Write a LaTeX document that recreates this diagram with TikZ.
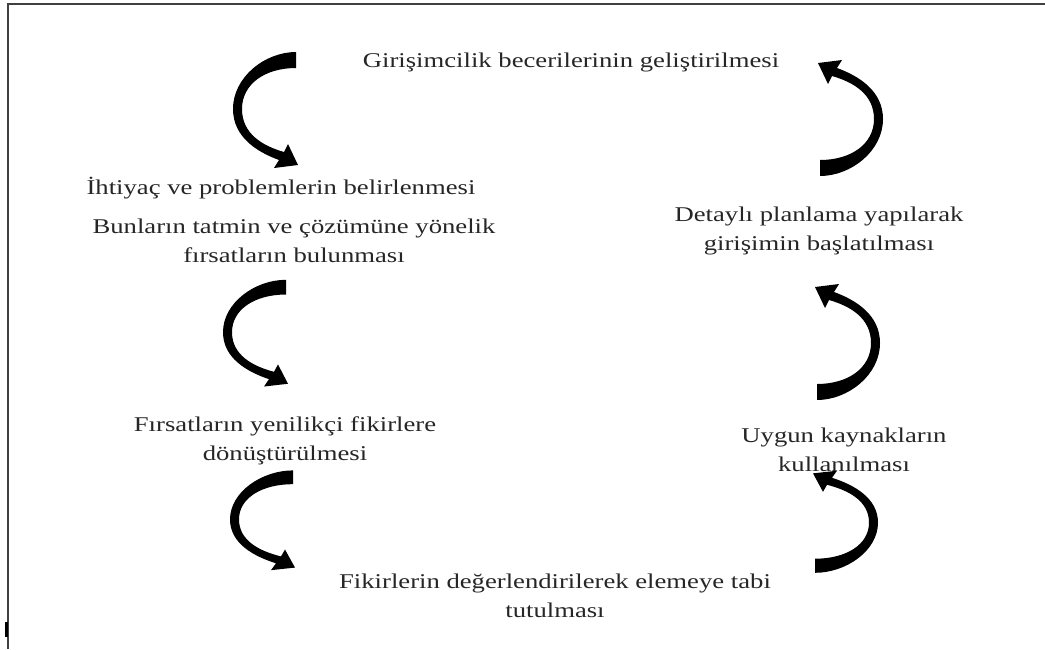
\documentclass[tikz,border=0pt]{standalone}
\usepackage{fontspec}
\setmainfont[FakeStretch=1.27]{Liberation Serif}
\usepackage{tikz}
\usetikzlibrary{positioning,calc}

\tikzset{
  txt/.style={align=center, inner sep=0pt, text=black!85, font=\fontsize{21}{29}\selectfont},
  bentarrow/.pic={
    \fill[black] (31,-60) .. controls (0,-60) and (-32,-35) .. (-32,-3)
      .. controls (-32,25) and (-8,40) .. (14,48) -- (9,56) -- (33,53) -- (23,32) -- (19,40)
      .. controls (-2,34) and (-23,22) .. (-23,-3)
      .. controls (-23,-28) and (0,-44) .. (31,-44) -- cycle;
  }
}

\begin{document}
\begin{tikzpicture}[x=1pt, y=-1pt]
  \useasboundingbox (0,0) rectangle (1045,649);
  % frame
  \draw[line width=2pt, gray!50!black] (8,649) -- (8,4) -- (1045,4);
  \fill[black] (5,622) rectangle (8,637);

  \node[txt] at (571, 62) (n_1) {Girişimcilik becerilerinin geliştirilmesi};
  \node[txt] at (281, 188) (n_2) {İhtiyaç ve problemlerin belirlenmesi};
  \node[txt] at (294, 241) (n_3) {Bunların tatmin ve çözümüne yönelik\\fırsatların bulunması};
  \node[txt] at (285, 441) (n_4) {Fırsatların yenilikçi fikirlere\\dönüştürülmesi};
  \node[txt] at (555, 596) (n_5) {Fikirlerin değerlendirilerek elemeye tabi\\tutulması};
  \node[txt] at (844, 450) (n_6) {Uygun kaynakların\\kullanılması};
  \node[txt] at (819, 231) (n_7) {Detaylı planlama yapılarak\\girişimin başlatılması};

  \pic at (265,112) {bentarrow};
  \pic[yscale=0.92] at (255,335) {bentarrow};
  \pic[yscale=0.86] at (262,522) {bentarrow};
  \pic[rotate=180, yscale=0.88] at (846,520) {bentarrow};
  \pic[rotate=180] at (848,340) {bentarrow};
  \pic[rotate=180] at (851,116) {bentarrow};

\end{tikzpicture}
\end{document}
